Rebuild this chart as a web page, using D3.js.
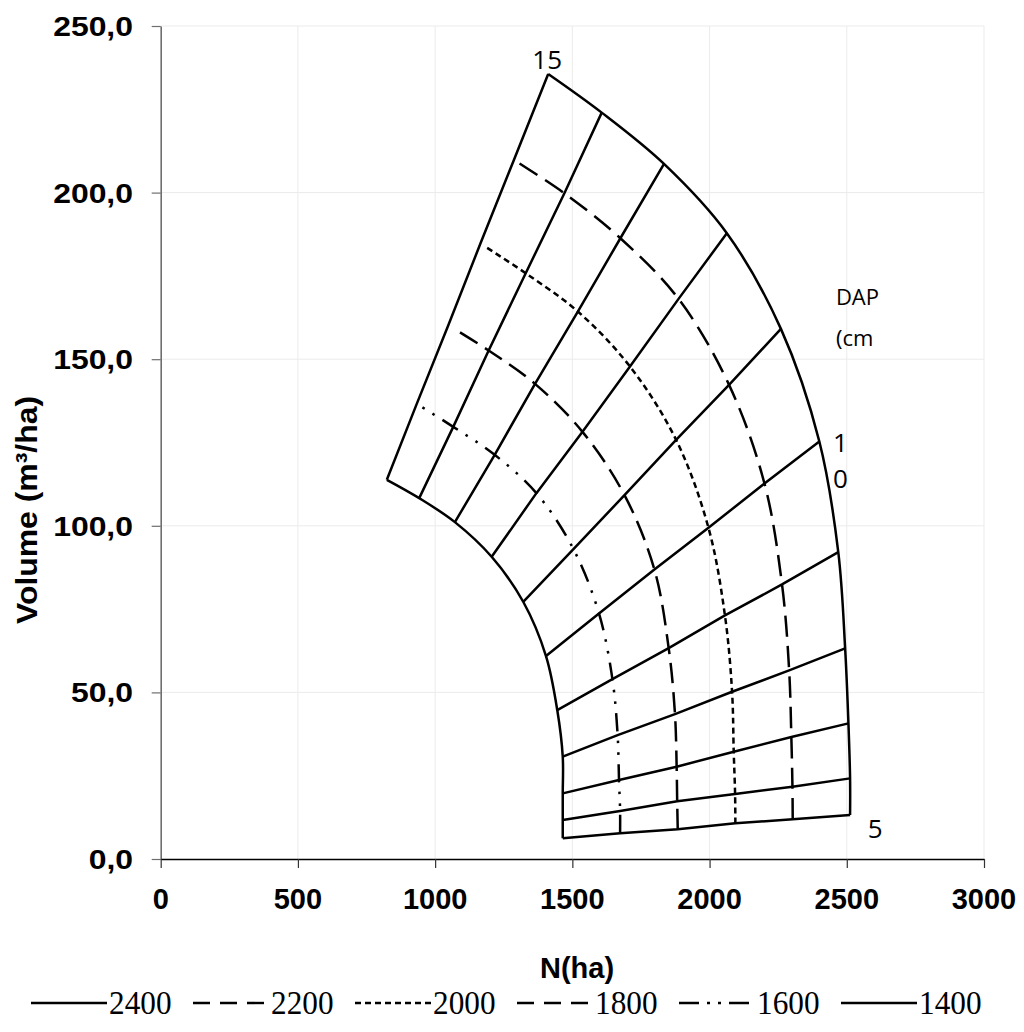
<!DOCTYPE html>
<html><head><meta charset="utf-8">
<script src="https://cdn.jsdelivr.net/npm/d3@7"></script>
<style>body{margin:0;background:#fff}svg{display:block}</style>
</head><body><svg id="c" width="1024" height="1032"></svg>
<script>
// ---- data ----
const dap = [5,6,7,8,9,10,11,12,13,14,15];
const seriesNames = [2400,2200,2000,1800,1600,1400];
const n2400 = [2512,2512,2506,2494,2469,2400,2260,2063,1834,1607,1412];
const v2400 = [13.2,24.2,40.7,63.2,92.1,125.3,159.1,187.8,208.6,224.0,235.6];
const n2200 = [2303,2302,2298,2290,2264,2200,2071,1887,1675,1471,1287];
const v2200 = [11.9,21.7,36.6,56.6,82.4,112.7,142.3,168.1,186.3,199.8,209.8];
const n2000 = [2094,2093,2088,2082,2056,1996,1878,1710,1520,1330,1165];
const v2000 = [10.7,19.5,32.2,50.2,73.1,99.4,125.8,147.8,164.3,175.8,184.7];
const n1800 = [1884,1882,1880,1874,1851,1799,1690,1537,1364,1195,1048];
const v1800 = [8.9,17.3,27.7,43.5,63.3,86.9,109.2,128.2,142.6,152.6,160.2];
const n1600 = [1674,1674,1670,1665,1646,1597,1504,1369,1217,1066,933];
const v1600 = [7.7,14.4,23.7,37.2,54.0,73.7,93.0,109.8,121.3,129.7,136.6];
const n1400 = [1465,1465,1465,1465,1445,1404,1321,1206,1072,942,824];
const v1400 = [6.2,11.7,19.7,30.7,44.7,60.9,77.2,90.7,101.1,108.3,113.8];
const xTicks = [0,500,1000,1500,2000,2500,3000];
const yTicks = [0,50,100,150,200,250];
const yTickLabels = ["0,0","50,0","100,0","150,0","200,0","250,0"];

// ---- build ----
const N = {2400:n2400,2200:n2200,2000:n2000,1800:n1800,1600:n1600,1400:n1400};
const V = {2400:v2400,2200:v2200,2000:v2000,1800:v1800,1600:v1600,1400:v1400};
const dashPlot = {2400:null,2200:"21,9",2000:"6,4",1800:"21,9",1600:"18,9,2.5,9,2.5,9",1400:null};
const endGap   = {2200:7,2000:8,1800:14,1600:7};
const endElem  = {2200:0,2000:0,1800:0,1600:4};
const dashLeg  = {2400:null,2200:"17,10",2000:"6,4",1800:"17,10",1600:"20,8,3,8,3,8",1400:null};

const svg = d3.select('#c');
const x = d3.scaleLinear().domain([0,3000]).range([160.7,984]);
const y = d3.scaleLinear().domain([0,250]).range([859,26]);

// grid
const grid = svg.append('g').attr('stroke','#ebebeb').attr('stroke-width',1);
grid.selectAll('line.gx').data(xTicks.slice(1)).join('line').attr('class','gx')
  .attr('x1',d=>x(d)).attr('x2',d=>x(d)).attr('y1',y(0)).attr('y2',y(250));
grid.selectAll('line.gy').data(yTicks.slice(1)).join('line').attr('class','gy')
  .attr('x1',x(0)).attr('x2',x(3000)).attr('y1',d=>y(d)).attr('y2',d=>y(d));

// axes
const ya = svg.append('g').attr('transform',`translate(${x(0)},0)`)
  .call(d3.axisLeft(y).tickValues(yTicks).tickSize(9).tickSizeOuter(0).tickFormat(''));
ya.select('.domain').attr('stroke','#6e6e6e').attr('stroke-width',1.6);
ya.selectAll('.tick line').attr('stroke','#6e6e6e').attr('stroke-width',1.2);
const xa = svg.append('g').attr('transform',`translate(0,${y(0)})`)
  .call(d3.axisBottom(x).tickValues(xTicks).tickSize(9).tickSizeOuter(0).tickFormat(''));
xa.select('.domain').attr('stroke','#000').attr('stroke-width',1.3);
xa.selectAll('.tick line').attr('stroke','#333').attr('stroke-width',1.2);

// tick labels
const fontB = "'Liberation Sans', Arial, sans-serif";
svg.append('g').selectAll('text').data(yTicks).join('text')
  .attr('transform',d=>`translate(133,${y(d)+10}) scale(1.14,1)`)
  .attr('text-anchor','end').attr('font-family',fontB).attr('font-weight','bold')
  .attr('font-size',28).text((d,i)=>yTickLabels[i]);
svg.append('g').selectAll('text').data(xTicks).join('text')
  .attr('x',d=>x(d)).attr('y',909).attr('text-anchor','middle')
  .attr('font-family',fontB).attr('font-weight','bold').attr('font-size',29).text(d=>d);

// axis titles
svg.append('text').attr('transform','translate(37,510) rotate(-90)')
  .attr('text-anchor','middle').attr('font-family',fontB).attr('font-weight','bold')
  .attr('font-size',30).attr('textLength',228).attr('lengthAdjust','spacingAndGlyphs')
  .text('Volume (m³/ha)');
svg.append('text').attr('x',577).attr('y',978).attr('text-anchor','middle')
  .attr('font-family',fontB).attr('font-weight','bold').attr('font-size',29).text('N(ha)');

// DAP lines (straight, through each curve's point)
const order = [1400,1600,1800,2000,2200,2400];
const lin = d3.line().x(d=>x(d[0])).y(d=>y(d[1]));
const g = svg.append('g').attr('fill','none').attr('stroke','#000').attr('stroke-width',2.5)
  .attr('stroke-linejoin','round');
dap.forEach((d,i)=>{
  g.append('path').attr('d', lin(order.map(s=>[N[s][i],V[s][i]])));
});

// dash pattern fitted so it starts with a dash at DAP 5 and ends with a full
// pattern element followed by a short gap at DAP 15
function fitDash(pattern, L, gapEnd, e){
  const p = pattern.split(',').map(Number);
  const period = d3.sum(p), pre = d3.sum(p.slice(0,e+1));
  const k = Math.max(0, Math.round((L - gapEnd - pre)/period));
  const sc = (L - gapEnd)/(k*period + pre);
  const arr = [];
  for(let j=0;j<k;j++) p.forEach(v=>arr.push(v*sc));
  p.slice(0,e+1).forEach(v=>arr.push(v*sc));
  arr.push(gapEnd + 20);
  return arr.map(v=>v.toFixed(2)).join(',');
}
// N curves
const cur = d3.line().x(d=>x(d[0])).y(d=>y(d[1])).curve(d3.curveCatmullRom.alpha(0.5));
seriesNames.forEach(s=>{
  const p = g.append('path').attr('d', cur(dap.map((d,i)=>[N[s][i],V[s][i]])));
  if(dashPlot[s]){
    const L = p.node().getTotalLength();
    p.attr('stroke-dasharray', fitDash(dashPlot[s], L, endGap[s], endElem[s]));
  }
});

// annotations
const fontR = "'Open Sans', 'Noto Sans', sans-serif";
const ann = svg.append('g').attr('font-family',fontR).attr('fill','#000');
const last = dap.length-1;
ann.append('text').attr('x',x(n2400[last])-1).attr('y',y(v2400[last])-5)
  .attr('text-anchor','middle').attr('font-size',26).text('15');
ann.append('text').attr('x',x(n2400[0])+25).attr('y',y(v2400[0])+23)
  .attr('text-anchor','middle').attr('font-size',26).text('5');
const i10 = dap.indexOf(10);
ann.append('text').attr('x',x(n2400[i10])+21).attr('y',y(v2400[i10])+10)
  .attr('text-anchor','middle').attr('font-size',26).text('1');
ann.append('text').attr('x',x(n2400[i10])+21).attr('y',y(v2400[i10])+46)
  .attr('text-anchor','middle').attr('font-size',26).text('0');
const i11 = dap.indexOf(11);
ann.append('text').attr('x',x(n2400[i11])+55).attr('y',y(v2400[i11])-24)
  .attr('font-size',22).text('DAP');
ann.append('text').attr('x',x(n2400[i11])+55).attr('y',y(v2400[i11])+17)
  .attr('font-size',22).text('(cm');

// legend
const leg = svg.append('g');
const fontT = "'Liberation Serif', 'Times New Roman', serif";
seriesNames.forEach((s,k)=>{
  const x0 = 31 + k*162;
  const ln = leg.append('line').attr('x1',x0).attr('x2',x0+76).attr('y1',1003).attr('y2',1003)
    .attr('stroke','#000').attr('stroke-width',2.4);
  if(dashLeg[s]) ln.attr('stroke-dasharray',dashLeg[s]);
  leg.append('text').attr('transform',`translate(${x0+78},1014) scale(0.92,1)`)
    .attr('font-family',fontT).attr('font-size',34).text(s);
});
</script></body></html>
